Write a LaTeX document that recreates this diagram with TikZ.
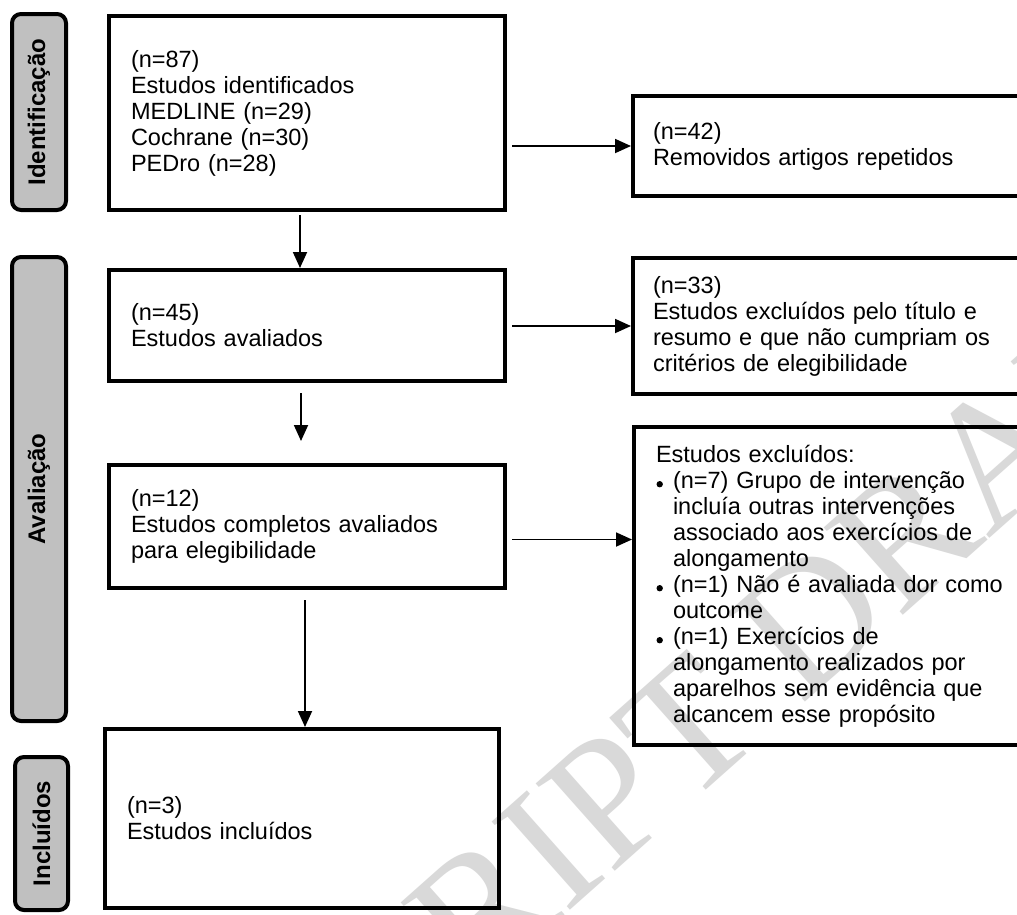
\documentclass[tikz,border=0pt]{standalone}
\usepackage{fontspec}
\setmainfont{Liberation Sans}
\newfontfamily\wmfont{Liberation Serif}
\usetikzlibrary{arrows.meta}
\newlength\myind
\setlength\myind{17pt}
\newcommand\mybul{\makebox[\myind][l]{\hspace{0.5pt}\tikz[baseline=0pt]\fill[black] (0pt,4pt) circle[radius=3.2pt];}}
\begin{document}
\begin{tikzpicture}[x=1pt,y=-1pt,
  txt/.style={font=\fontsize{23.5}{26}\selectfont},
  box/.style={txt, draw, line width=4pt, align=left, inner xsep=22pt, inner ysep=0pt},
  sidebox/.style={draw, line width=4pt, fill=sidegray, rounded corners=9pt, inner sep=0pt},
  sidetext/.style={rotate=90, font=\bfseries\fontsize{24}{24}\selectfont},
  arr/.style={line width=1.8pt, -{Triangle[length=16pt,width=14pt]}},
  wm/.style={text=gray!30, font=\wmfont\fontsize{180}{180}\selectfont, inner sep=0pt}
]
\definecolor{sidegray}{HTML}{C0C0C0}
\useasboundingbox (0,0) rectangle (1017,914);
\clip (0,0) rectangle (1017,914);
\fill[white] (0,0) rectangle (1017,914);

% watermark
\node[wm, rotate=41.6, anchor=base west] (wmk) at (-100,1506) {MANUSCRIPT DRAFT};

% side labels
\node[sidebox, minimum width=54pt, minimum height=196pt] (s1) at (39,112) {};
\node[sidetext] (s1t) at (s1.center) {Identificação};
\node[sidebox, minimum width=54pt, minimum height=464pt] (s2) at (39,489) {};
\node[sidetext] (s2t) at (s2.center) {Avaliação};
\node[sidebox, minimum width=53pt, minimum height=153pt] (s3) at (41.5,833.5) {};
\node[sidetext] (s3t) at (s3.center) {Incluídos};

% main column
\node[box, text width=352pt, minimum height=194pt] (b1) at (307,113)
  {(n=87)\\Estudos identificados\\MEDLINE (n=29)\\Cochrane (n=30)\\PEDro (n=28)};
\node[box, text width=352pt, minimum height=111pt] (b2) at (307,325.5)
  {(n=45)\\Estudos avaliados};
\node[box, text width=352pt, minimum height=123pt] (b3) at (307,526.5)
  {(n=12)\\Estudos completos avaliados\\para elegibilidade};
\node[box, text width=350pt, minimum height=179pt] (b4) at (302,818.5)
  {(n=3)\\Estudos incluídos};

% right column
\node[box, inner xsep=20pt, text width=377pt, minimum height=100pt] (r1) at (841.5,146)
  {(n=42)\\Removidos artigos repetidos};
\node[box, inner xsep=20pt, text width=377pt, minimum height=136pt] (r2) at (841.5,326)
  {(n=33)\\Estudos excluídos pelo título e\\resumo e que não cumpriam os\\critérios de elegibilidade};
\node[box, text width=372pt, minimum height=318pt] (r3) at (842,586)
  {Estudos excluídos:\\
   \mybul(n=7) Grupo de intervenção\\
   \hspace*{\myind}incluía outras intervenções\\
   \hspace*{\myind}associado aos exercícios de\\
   \hspace*{\myind}alongamento\\
   \mybul(n=1) Não é avaliada dor como\\
   \hspace*{\myind}outcome\\
   \mybul(n=1) Exercícios de\\
   \hspace*{\myind}alongamento realizados por\\
   \hspace*{\myind}aparelhos sem evidência que\\
   \hspace*{\myind}alcancem esse propósito};

% connectors
\draw[arr] ([xshift=5pt]b1.east |- r1.west) -- (r1.west);
\draw[arr] ([xshift=5pt]b2.east |- r2.west) -- (r2.west);
\draw[arr] ([xshift=5pt,yshift=-13pt]b3.east) -- ([yshift=-13pt]b3.east -| r3.west);
\draw[arr] ([xshift=-7pt,yshift=-3pt]b1.south) -- ([xshift=-7pt]b2.north);
\draw[arr] ([xshift=-6pt,yshift=-10pt]b2.south) -- ([xshift=-6pt,yshift=22pt]b3.north);
\draw[arr] ([xshift=-2pt,yshift=-10pt]b3.south) -- ([xshift=3pt]b4.north);
\end{tikzpicture}
\end{document}
